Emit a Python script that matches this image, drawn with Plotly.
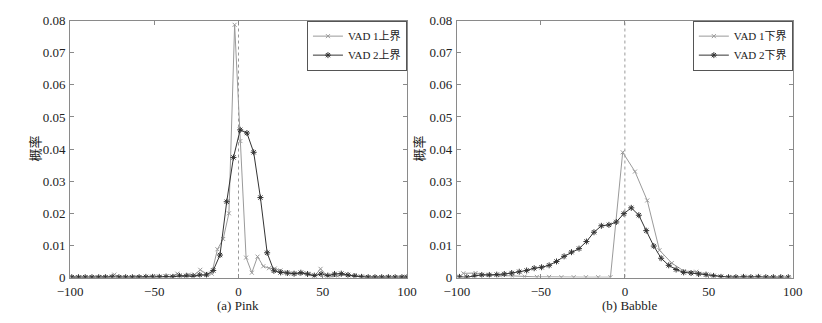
import plotly.graph_objects as go

# ---------------- data ----------------
# (a) Pink
pink_vad1_x = [-97.5, -94.1, -90.7, -87.3, -83.9, -80.5, -77.1, -73.7, -70.3, -66.9,
               -63.5, -60.1, -56.7, -53.3, -49.9, -46.5, -43.1, -39.7, -36.3, -32.9,
               -29.5, -26.1, -22.7, -19.3, -15.9, -12.5, -9.1, -5.7, -2.3, 1.1,
               4.5, 7.9, 11.3, 14.7, 18.1, 21.5, 24.9, 28.3, 31.7, 35.1,
               38.5, 41.9, 45.3, 48.7, 52.1, 55.5, 58.9, 62.3, 65.7, 69.1,
               72.5, 75.9, 79.3, 82.7, 86.1, 89.5, 92.9, 96.3, 99.7]
pink_vad1_y = [0.0001, 0.0001, 0.0001, 0.0001, 0.0001, 0.0002, 0.0002, 0.0009, 0.0001, 0.0001,
               0.0001, 0.0002, 0.0001, 0.0002, 0.0002, 0.0002, 0.0003, 0.0004, 0.0012, 0.0004,
               0.0009, 0.0009, 0.0024, 0.0012, 0.0012, 0.0088, 0.0120, 0.0200, 0.0787, 0.0425,
               0.0062, 0.0015, 0.0065, 0.0035, 0.0029, 0.0028, 0.0022, 0.0016, 0.0013, 0.0012,
               0.0014, 0.0011, 0.0006, 0.0027, 0.0008, 0.0003, 0.0004, 0.0010, 0.0005, 0.0008,
               0.0003, 0.0002, 0.0001, 0.0001, 0.0001, 0.0002, 0.0001, 0.0001, 0.0001]

pink_vad2_x = [-99, -95, -91, -87, -83, -79, -75, -71, -67, -63,
               -59, -55, -51, -47, -43, -39, -35, -31, -27, -23,
               -19, -15, -11, -7, -3, 1, 5, 9, 13, 17,
               21, 25, 29, 33, 37, 41, 45, 49, 53, 57,
               61, 65, 69, 73, 77, 81, 85, 89, 93, 97, 100]
pink_vad2_y = [0.0001, 0.0001, 0.0001, 0.0001, 0.0001, 0.0001, 0.0002, 0.0001, 0.0001, 0.0001,
               0.0001, 0.0002, 0.0002, 0.0002, 0.0003, 0.0002, 0.0005, 0.0005, 0.0004, 0.0008,
               0.0008, 0.0022, 0.0070, 0.0236, 0.0374, 0.0460, 0.0450, 0.0390, 0.0249, 0.0077,
               0.0021, 0.0016, 0.0014, 0.0012, 0.0015, 0.0011, 0.0006, 0.0011, 0.0006, 0.0011,
               0.0012, 0.0008, 0.0004, 0.0002, 0.0001, 0.0001, 0.0001, 0.0001, 0.0001, 0.0001, 0.0001]

# (b) Babble
babble_vad1_x = [-96.2, -88.9, -81.6, -74.3, -67.0, -59.7, -52.4, -45.1, -37.8, -30.5,
                 -23.2, -15.9, -8.6, -1.3, 6.0, 13.3, 20.6, 27.9, 35.2, 42.5,
                 49.8, 57.1, 64.4, 71.7, 79.0, 86.3, 93.6]
babble_vad1_y = [0.0013, 0.0014, 0.0008, 0.0006, 0.0004, 0.0003, 0.0002, 0.0002, 0.0001, 0.0001,
                 0.0001, 0.0001, 0.0001, 0.0390, 0.0330, 0.0240, 0.0085, 0.0045, 0.0020, 0.0018,
                 0.0009, 0.0003, 0.0002, 0.0002, 0.0002, 0.0001, 0.0001]

babble_vad2_x = [-98.5, -94.1, -89.6, -85.2, -80.7, -76.3, -71.8, -67.4, -62.9, -58.5,
                 -54.0, -49.6, -45.1, -40.7, -36.2, -31.8, -27.3, -22.9, -18.4, -14.0,
                 -9.5, -5.1, -0.6, 3.8, 8.3, 12.7, 17.2, 21.6, 26.1, 30.5,
                 35.0, 39.4, 43.9, 48.3, 52.8, 57.2, 61.7, 66.1, 70.6, 75.0,
                 79.5, 83.9, 88.4, 92.8, 97.3]
babble_vad2_y = [0.0002, 0.0001, 0.0005, 0.0008, 0.0008, 0.0009, 0.0011, 0.0014, 0.0018, 0.0022,
                 0.0029, 0.0032, 0.0038, 0.0050, 0.0066, 0.0079, 0.0090, 0.0112, 0.0141, 0.0161,
                 0.0164, 0.0173, 0.0199, 0.0217, 0.0194, 0.0146, 0.0098, 0.0060, 0.0038, 0.0025,
                 0.0016, 0.0014, 0.0011, 0.0009, 0.0005, 0.0002, 0.0001, 0.0001, 0.0002, 0.0001,
                 0.0002, 0.0001, 0.0001, 0.0001, 0.0001]

x_ticks = [-100, -50, 0, 50, 100]
y_ticks = [0, 0.01, 0.02, 0.03, 0.04, 0.05, 0.06, 0.07, 0.08]
y_ticklabels = ["0", "0.01", "0.02", "0.03", "0.04", "0.05", "0.06", "0.07", "0.08"]

# ---------------- style ----------------
C1 = "#9a9a9a"
C2 = "#333333"
SERIF = "Liberation Serif, Times New Roman, serif"
CJK = "Noto Sans CJK SC"
TXT = "#222222"

fig = go.Figure()

def add_pair(x1, y1, x2, y2, n1, n2, xa, ya, lg):
    fig.add_trace(go.Scatter(x=x1, y=y1, name=n1, mode="lines+markers",
                             xaxis=xa, yaxis=ya, legend=lg,
                             line=dict(color=C1, width=1),
                             marker=dict(symbol="x-thin-open", size=4,
                                         line=dict(color=C1, width=1), color=C1)))
    fig.add_trace(go.Scatter(x=x2, y=y2, name=n2, mode="lines+markers",
                             xaxis=xa, yaxis=ya, legend=lg,
                             line=dict(color=C2, width=1),
                             marker=dict(symbol="asterisk-open", size=5,
                                         line=dict(color=C2, width=1), color=C2)))

add_pair(pink_vad1_x, pink_vad1_y, pink_vad2_x, pink_vad2_y,
         "VAD 1上界", "VAD 2上界", "x", "y", "legend")
add_pair(babble_vad1_x, babble_vad1_y, babble_vad2_x, babble_vad2_y,
         "VAD 1下界", "VAD 2下界", "x2", "y2", "legend2")

W, H = 822, 323
L1, R1 = 58.7, 405.3
L2, R2 = 456.7, 802.3
TOP, BOT = 14.3, 283.7
ydom = [(H - BOT) / H, (H - TOP) / H]

axis_common = dict(showgrid=False, zeroline=False, showline=True, linecolor="#8a8a8a",
                   linewidth=1, mirror="allticks", ticks="inside", ticklen=4,
                   tickcolor="#8a8a8a", tickfont=dict(family=SERIF, size=13, color=TXT))

legend_common = dict(xanchor="right", yanchor="top",
                     bordercolor="#555555", borderwidth=1, bgcolor="white",
                     font=dict(family=SERIF + ", " + CJK, size=11, color=TXT),
                     tracegroupgap=0, itemwidth=30)

fig.update_layout(
    width=W, height=H, margin=dict(l=0, r=0, t=0, b=0),
    paper_bgcolor="white", plot_bgcolor="white",
    xaxis=dict(domain=[L1 / W, R1 / W], range=[-100, 100], tickvals=x_ticks,
               anchor="y", ticklabelstandoff=2, **axis_common),
    yaxis=dict(domain=ydom, range=[0, 0.08], tickvals=y_ticks, ticktext=y_ticklabels,
               anchor="x", ticklabelstandoff=1, **axis_common),
    xaxis2=dict(domain=[L2 / W, R2 / W], range=[-100, 100], tickvals=x_ticks,
                anchor="y2", ticklabelstandoff=2, **axis_common),
    yaxis2=dict(domain=ydom, range=[0, 0.08], tickvals=y_ticks, ticktext=y_ticklabels,
                anchor="x2", ticklabelstandoff=1, **axis_common),
    legend=dict(x=R1 / W, y=(H - TOP) / H, **legend_common),
    legend2=dict(x=R2 / W, y=(H - TOP) / H, **legend_common),
    showlegend=True,
)

# dashed reference lines at 0
for xr, yr in (("x", "y"), ("x2", "y2")):
    fig.add_shape(type="line", xref=xr, yref=yr, x0=0, x1=0, y0=0, y1=0.08,
                  line=dict(color="#9a9a9a", width=1, dash="dot"), layer="below")

# axis titles
ann = [
    dict(text="概率", x=22 / W, y=(H - 148) / H, textangle=-90, fam=CJK),
    dict(text="概率", x=417 / W, y=(H - 148) / H, textangle=-90, fam=CJK),
    dict(text="(a) Pink", x=231 / W, y=(H - 313) / H, textangle=0, fam=SERIF),
    dict(text="(b) Babble", x=634 / W, y=(H - 313) / H, textangle=0, fam=SERIF),
]
for a in ann:
    fig.add_annotation(text=a["text"], x=a["x"], y=a["y"], xref="paper", yref="paper",
                       showarrow=False, textangle=a["textangle"],
                       xanchor="center", yanchor="middle",
                       font=dict(family=a["fam"], size=13, color=TXT))

fig.write_html("out.html")
